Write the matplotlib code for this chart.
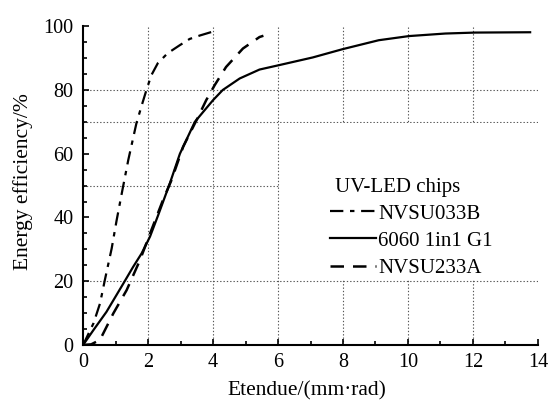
import matplotlib.pyplot as plt
from matplotlib.patches import Rectangle
from matplotlib.ticker import MultipleLocator

plt.rcParams['font.family'] = ['Liberation Serif', 'DejaVu Serif']

# NVSU033B (dash-dot)
x_033b = [0.0, 0.32, 0.52, 0.67, 0.88, 1.03, 1.21, 1.39, 1.64, 1.8, 1.95, 2.1, 2.3, 2.6, 2.97, 3.28, 3.6, 3.96]
y_033b = [0.0, 6.8, 13.0, 20.4, 30.3, 39.0, 48.6, 58.0, 69.5, 75.0, 80.0, 84.6, 88.4, 91.5, 94.0, 96.0, 97.1, 98.2]

# 6060 1in1 G1 (solid)
x_6060 = [0.0, 0.32, 0.72, 1.24, 1.54, 1.8, 2.06, 2.31, 2.67, 2.98, 3.44, 4.0, 4.3, 4.82, 5.43, 6.04,
          7.07, 7.99, 9.1, 10.03, 11.15, 12.07, 13.76]
y_6060 = [0.0, 4.7, 10.4, 19.3, 24.5, 28.7, 34.0, 40.7, 50.7, 60.0, 70.0, 76.8, 80.0, 83.6, 86.4, 87.8,
          90.2, 92.8, 95.6, 96.9, 97.7, 98.0, 98.1]

# NVSU233A (dashed)
x_233a = [0.0, 0.25, 0.52, 0.93, 1.34, 1.75, 2.1, 2.46, 2.72, 3.08, 3.49, 3.79, 4.05, 4.4, 4.92, 5.43, 5.55]
y_233a = [0.0, 0.2, 1.6, 9.9, 17.2, 26.6, 36.0, 45.5, 51.7, 62.2, 70.5, 76.8, 81.5, 87.2, 93.0, 96.6, 97.0]

x_grid = [2, 4, 6, 8, 10, 12]
y_grid = [20, 50, 70, 80]

fig = plt.figure(figsize=(5.54, 4.03), dpi=100)
ax = fig.add_axes([0.15, 0.144, 0.821, 0.791])

for gx in x_grid:
    ax.axvline(gx, color='#555555', lw=0.8, ls=(0, (1.2, 1.8)), zorder=1)
for gy in y_grid:
    ax.axhline(gy, color='#555555', lw=0.8, ls=(0, (1.2, 1.8)), zorder=1)

# white box behind the legend hides the grid there
ax.add_patch(Rectangle((0.433, 0.205), 0.567, 0.49, transform=ax.transAxes,
                       facecolor='white', edgecolor='none', zorder=2))

ax.plot(x_033b, y_033b, color='black', lw=1.6, ls=(0, (6, 3, 2, 3)), zorder=3, label='NVSU033B')
ax.plot(x_6060, y_6060, color='black', lw=1.6, ls='-', zorder=3, label='6060 1in1 G1')
ax.plot(x_233a, y_233a, color='black', lw=1.8, ls=(0, (5.4, 3.6)), zorder=3, label='NVSU233A')

ax.set_xlim(0, 14)
ax.set_ylim(0, 100)
ax.xaxis.set_major_locator(MultipleLocator(2))
ax.xaxis.set_minor_locator(MultipleLocator(1))
ax.yaxis.set_major_locator(MultipleLocator(20))
ax.yaxis.set_minor_locator(MultipleLocator(5))
ax.tick_params(which='both', direction='in', width=1.2, labelsize=14.5)
ax.tick_params(axis='x', pad=6)
ax.tick_params(axis='y', pad=7)
ax.tick_params(which='major', length=4)
ax.tick_params(which='minor', length=3)

ax.spines['top'].set_visible(False)
ax.spines['right'].set_visible(False)
ax.spines['left'].set_linewidth(1.5)
ax.spines['bottom'].set_linewidth(1.5)

ax.set_xlabel('Etendue/(mm·rad)', fontsize=15.5)
ax.set_ylabel('Energy efficiency/%', fontsize=15.5)
ax.xaxis.set_label_coords(0.491, -0.113)
ax.yaxis.set_label_coords(-0.11, 0.513)

leg = ax.legend(title='UV-LED chips', loc='upper left', bbox_to_anchor=(0.543, 0.525),
                frameon=False, fontsize=15, title_fontsize=15, handlelength=2.2,
                handletextpad=0.1, borderpad=0, borderaxespad=0, labelspacing=0.36,
                alignment='left')
leg.get_title().set_x(5)
leg.set_zorder(4)

fig.savefig('out.png', dpi=100)
